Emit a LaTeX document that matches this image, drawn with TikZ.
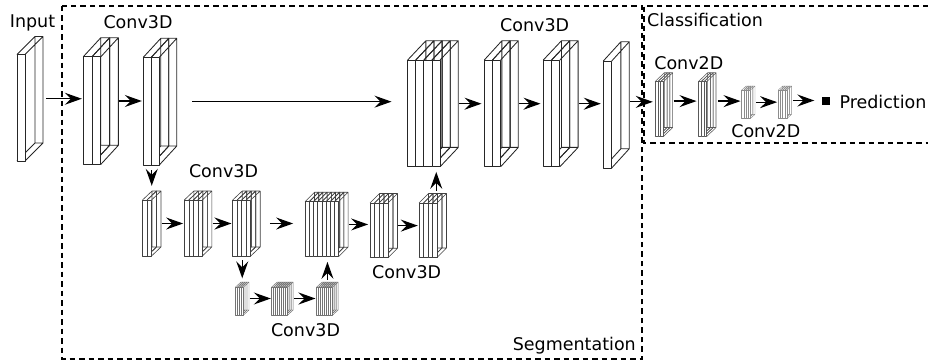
\documentclass[tikz,border=0pt]{standalone}
\usepackage{fontspec}
\setmainfont{DejaVu Sans}
\usetikzlibrary{arrows.meta,fit,calc}

\newcommand{\slabblock}[9]{%
  \foreach \i in {1,...,#5}{%
    \pgfmathsetmacro{\xa}{#2+(\i-1)*#6}%
    \pgfmathsetmacro{\xb}{#2+\i*#6}%
    \draw[#9] (\xa+#7,#3-#8) rectangle (\xb+#7,#4-#8)
      (\xa,#3) -- (\xa+#7,#3-#8) (\xb,#3) -- (\xb+#7,#3-#8)
      (\xa,#4) -- (\xa+#7,#4-#8) (\xb,#4) -- (\xb+#7,#4-#8);
  }%
  \foreach \i in {1,...,#5}{%
    \pgfmathsetmacro{\xa}{#2+(\i-1)*#6}%
    \pgfmathsetmacro{\xb}{#2+\i*#6}%
    \draw[#9,fill=white] (\xa,#3) rectangle (\xb,#4);
  }%
  \node[inner sep=0pt,fit={(#2,#3-#8) (#2+#5*#6+#7,#4)}] (#1) {};
}

\tikzset{
  rowone/.style={draw=black!85,line width=0.85pt,line join=round},
  rowtwo/.style={draw=black!75,line width=0.6pt,line join=round},
  rowthree/.style={draw=black!55,line width=0.45pt,line join=round},
  clsa/.style={draw=black!65,line width=0.55pt,line join=round},
  clsb/.style={draw=black!45,line width=0.45pt,line join=round},
  arr/.style={-{Stealth[length=17pt,width=12pt,inset=6pt]},line width=1.25pt},
  dbox/.style={line width=2pt,dash pattern=on 5.5pt off 4pt},
  lbl/.style={anchor=base,inner sep=0pt,font=\fontsize{17.5}{21}\selectfont}
}

\begin{document}
\begin{tikzpicture}[x=1pt,y=-1pt]
\useasboundingbox (0,0) rectangle (928,362);

% dashed frames
\draw[dbox] (62,5.5) rectangle (641.8,359);
\draw[dbox] (928,5.5) -- (644.2,5.5) -- (644.2,143.3) -- (928,143.3);

% row 1
\slabblock{inp}{17}{54.5}{161}{1}{8}{18}{18}{rowone}
\slabblock{c1}{83.3}{56.7}{164.3}{2}{8.8}{17.5}{19}{rowone}
\slabblock{c2}{143.3}{57.3}{165}{2}{8}{17.5}{19}{rowone}
\slabblock{cat}{407.7}{60}{166.7}{4}{8.1}{18.2}{19.3}{rowone}
\slabblock{c3}{484.3}{60}{166.7}{2}{8.2}{17.6}{19.3}{rowone}
\slabblock{c4}{543.3}{60}{166.7}{2}{8.3}{18.2}{19.3}{rowone}
\slabblock{outp}{603.3}{61}{168}{1}{8.4}{17.6}{19.3}{rowone}

% row 2
\slabblock{r2a}{142.5}{200}{256}{2}{4.5}{9.5}{9}{rowtwo}
\slabblock{r2b}{184.3}{200}{256}{4}{4.5}{9.5}{9}{rowtwo}
\slabblock{r2c}{232.7}{200}{256}{4}{4.5}{9.5}{9}{rowtwo}
\slabblock{r2d}{305}{201.7}{256.7}{8}{4.2}{9.5}{9.5}{rowtwo}
\slabblock{r2e}{370}{203}{257.7}{4}{4.5}{9.5}{9.5}{rowtwo}
\slabblock{r2f}{419}{203}{257.5}{4}{4.5}{9.5}{9.5}{rowtwo}

% row 3
\slabblock{r3a}{235.5}{287}{315}{4}{2}{5.5}{5}{rowthree}
\slabblock{r3b}{271.7}{287}{315}{8}{2}{5.5}{5}{rowthree}
\slabblock{r3c}{316.7}{287}{315}{8}{2}{5.5}{5}{rowthree}

% classification
\slabblock{k1}{655}{81.7}{136.5}{3}{2.8}{9.3}{9}{clsa}
\slabblock{k2}{698.3}{81.7}{136.5}{3}{2.8}{9.3}{9}{clsa}
\slabblock{k3}{741.7}{90}{118.3}{4}{2.2}{4.5}{4}{clsb}
\slabblock{k4}{778.3}{90}{118.3}{4}{2.2}{4.5}{4}{clsb}
\node[fill=black,minimum size=8pt,inner sep=0pt] (pred) at (826,100.5) {};

% labels
\node[lbl] (tinput) at (32.5,27.8) {Input};
\node[lbl] (tconva) at (138,28.8) {Conv3D};
\node[lbl] (tconvb) at (534.7,31) {Conv3D};
\node[lbl,anchor=base west] (tclass) at (647,26.1) {Classification};
\node[lbl] (tcda) at (688.8,69.4) {Conv2D};
\node[lbl] (tcdb) at (765.8,137) {Conv2D};
\node[lbl,anchor=base west] (tpred) at (839.3,108.4) {Prediction};
\node[lbl] (tconvc) at (223.5,177.8) {Conv3D};
\node[lbl] (tconvd) at (406.7,278.8) {Conv3D};
\node[lbl] (tconve) at (305.5,336) {Conv3D};
\node[lbl,anchor=base east] (tseg) at (636,350) {Segmentation};

% row 1 arrows
\draw[arr] ([xshift=3pt]inp.east) -- ([xshift=-1.3pt]inp.east -| c1.west);
\draw[arr] (c1.east) -- ([xshift=-1.3pt]c1.east -| c2.west);
\draw[arr] ([xshift=15pt]c2.east) -- ([xshift=-16pt]c2.east -| cat.west);
\draw[arr] ([xshift=0.7pt]cat.east) -- ([xshift=-2.6pt]cat.east -| c3.west);
\draw[arr] ([xshift=0.7pt]c3.east) -- ([xshift=-2.6pt]c3.east -| c4.west);
\draw[arr] ([xshift=0.7pt]c4.east) -- ([xshift=-2.3pt]c4.east -| outp.west);
\draw[arr] ([yshift=3pt]outp.east) -- ([yshift=3pt,xshift=-2pt]outp.east -| k1.west);

% classification arrows
\draw[arr] ([yshift=3.5pt,xshift=0.6pt]k1.east) -- ([yshift=3.5pt,xshift=-1.6pt]k1.east -| k2.west);
\draw[arr] ([xshift=1.6pt,yshift=3.5pt]k2.east) -- ([yshift=3.5pt,xshift=-1pt]k2.east -| k3.west);
\draw[arr] ([xshift=1pt]k3.east) -- ([xshift=-1pt]k3.east -| k4.west);
\draw[arr] ([xshift=1pt]k4.east |- pred.west) -- ([xshift=-7.5pt]pred.west);

% row 2 arrows
\draw[arr] ([xshift=0.5pt]r2a.east) -- ([xshift=-1pt]r2a.east -| r2b.west);
\draw[arr] ([xshift=0.5pt]r2b.east) -- ([xshift=-1pt]r2b.east -| r2c.west);
\draw[arr] ([xshift=9.5pt]r2c.east) -- ([xshift=-11.7pt]r2c.east -| r2d.west);
\draw[arr] ([xshift=0.5pt]r2d.east) -- ([xshift=-1.7pt]r2d.east -| r2e.west);
\draw[arr] ([xshift=0.5pt]r2e.east) -- ([xshift=-1pt]r2e.east -| r2f.west);

% row 3 arrows
\draw[arr] ([xshift=0.5pt]r3a.east) -- ([xshift=-0.7pt]r3a.east -| r3b.west);
\draw[arr] ([xshift=0.5pt]r3b.east) -- ([xshift=-1pt]r3b.east -| r3c.west);

% vertical arrows
\draw[arr] ([yshift=-5pt]c2.south -| r2a.north) -- ([yshift=5pt]r2a.north);
\draw[arr] ([yshift=-4pt]r2c.south -| r3a.north) -- ([yshift=3.5pt]r3a.north);
\draw[arr] ([yshift=2pt]r3c.north) -- ([yshift=-5pt]r3c.north |- r2d.south);
\draw[arr] ([xshift=3.5pt,yshift=2.5pt]r2f.north) -- ([xshift=3.5pt,yshift=-5pt]r2f.north |- cat.south);
\end{tikzpicture}
\end{document}
